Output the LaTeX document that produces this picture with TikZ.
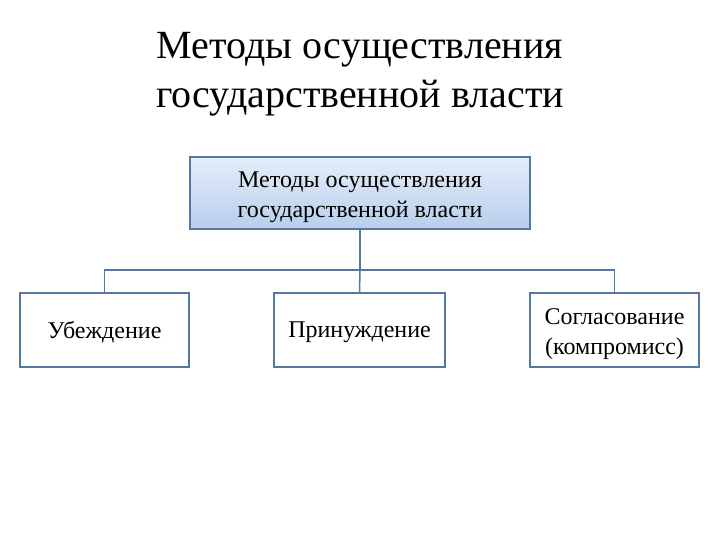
\documentclass[tikz,border=0pt]{standalone}
\usepackage{fontspec}
\setmainfont{Liberation Serif}
\definecolor{edge}{RGB}{85,120,160}
\definecolor{topc}{RGB}{228,238,250}
\definecolor{botc}{RGB}{184,206,236}
\begin{document}
\begin{tikzpicture}[x=1pt,y=-1pt,
  box/.style={draw=edge,line width=1.5pt,inner sep=0pt},
  txt/.style={align=center,inner sep=0pt,font=\fontsize{24}{29.5}\selectfont,yshift=-4pt},
  link/.style={draw=edge,line width=1.5pt}]
\useasboundingbox (0,0) rectangle (720,540);
\node[font=\fontsize{40}{49}\selectfont,align=center] (title) at (360,74) {Методы осуществления\\государственной власти};
\node[box,minimum width=340pt,minimum height=72pt,top color=topc,bottom color=botc] (top) at (360,193) {};
\node[box,minimum width=169pt,minimum height=74pt,fill=white] (b1) at (104.5,330) {};
\node[box,minimum width=171pt,minimum height=74pt,fill=white] (b2) at (359.5,330) {};
\node[box,minimum width=169pt,minimum height=74pt,fill=white] (b3) at (614.5,330) {};
\node[txt] (t0) at (top.center) {Методы осуществления\\государственной власти};
\node[txt,yshift=2pt] (t1) at (b1.center) {Убеждение};
\node[txt,yshift=2pt] (t2) at (b2.center) {Принуждение};
\node[txt] (t3) at (b3.center) {Согласование\\(компромисс)};
\coordinate (j) at (360,270);
\draw[link] (top.south) -- (j);
\draw[link] (b1.north) |- (j) -| (b3.north);
\draw[link] (j) -- (b2.north);
\end{tikzpicture}
\end{document}
